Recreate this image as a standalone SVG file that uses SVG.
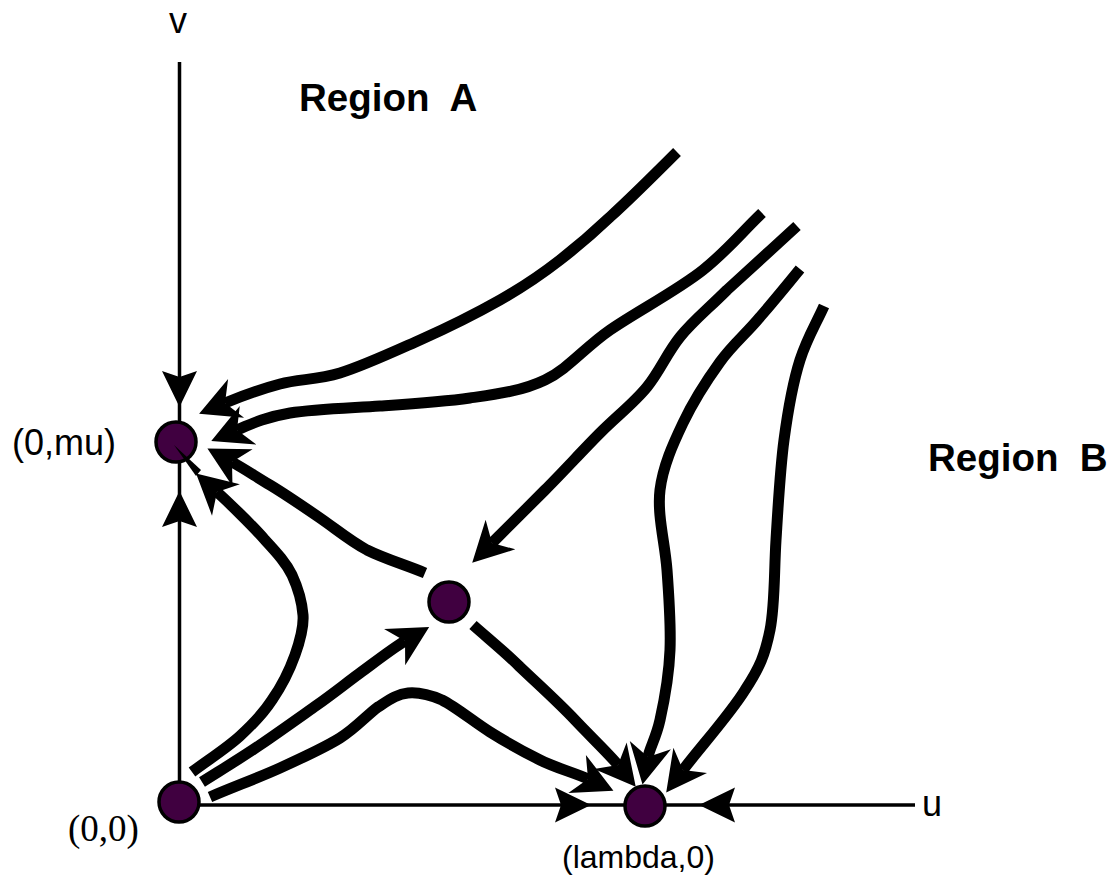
<svg xmlns="http://www.w3.org/2000/svg" xmlns:xlink="http://www.w3.org/1999/xlink" width="1112" height="884" viewBox="0 0 1112 884">
  <style>
    .axis { stroke: #000; stroke-width: 3.5; fill: none; }
    .flow { stroke: #000; stroke-width: 11; fill: none; stroke-linecap: butt; stroke-linejoin: round; marker-end: url(#head); }
    .pt { fill: #400040; stroke: #000; stroke-width: 3.5; }
    .lbl { font-family: "Liberation Sans", Arial, sans-serif; font-size: 36px; fill: #000; }
    .serif { font-family: "Liberation Serif", "Times New Roman", serif; font-size: 37px; fill: #000; }
    .region { font-family: "Liberation Sans", Arial, sans-serif; font-size: 38.5px; font-weight: bold; fill: #000; white-space: pre; }
  </style>
  <defs>
    <!-- notched arrowhead in user units; reference point sits in the notch so the stroke ends inside it -->
    <marker id="head" markerUnits="userSpaceOnUse" markerWidth="80" markerHeight="80" refX="0" refY="0" orient="auto" overflow="visible">
      <path d="M-12,-21 L28,0 L-12,21 L0,0 Z" fill="#000"/>
    </marker>
    <!-- arrowhead for the axes, tip at the origin pointing along +x -->
    <path id="axhead" d="M0,0 L-36,-17.5 L-30,0 L-36,17.5 Z" fill="#000"/>
  </defs>

  <rect width="1112" height="884" fill="#fff"/>

  <!-- coordinate axes -->
  <g id="axes">
    <line class="axis" x1="179.5" y1="62" x2="179.5" y2="802"/>
    <line class="axis" x1="179" y1="805" x2="915" y2="805"/>
    <use xlink:href="#axhead" transform="translate(179.5,407) rotate(90)"/>
    <use xlink:href="#axhead" transform="translate(179.5,491) rotate(-90)"/>
    <use xlink:href="#axhead" transform="translate(591,805)"/>
    <use xlink:href="#axhead" transform="translate(699,805) rotate(180)"/>
    <text class="lbl" x="178" y="33" text-anchor="middle">v</text>
    <text class="lbl" x="922" y="816">u</text>
  </g>

  <!-- trajectories -->
  <g id="connectors">
    <path class="flow" d="M677,152 C655,174 630,199 610,217 C591,235 578,246 560,260 C542,274 523,287 500,300 C477,313 447,328 420,340 C393,352 363,366 340,373 C317,380 299,379 280,384 C261,389 242,396 225,403"/>
    <path class="flow" d="M762,213 C742,232 728,250 703,270 C678,290 636,312 610,330 C584,348 568,369 545,380 C522,391 498,394 470,398 C442,402 410,404 380,406 C350,408 314,409 290,413 C266,417 251,424 237,430"/>
    <path class="flow" d="M797,226 C774,247 747,272 727,290 C708,309 693,321 680,337 C667,353 660,371 647,387 C634,403 617,416 600,433 C583,450 563,472 545,490 C527,508 504,531 492,543"/>
    <path class="flow" d="M800,269 C787,285 773,302 760,317 C747,333 733,344 720,362 C707,380 693,402 683,423 C673,444 663,466 660,490 C657,515 665,543 667,570 C669,597 671,625 670,650 C669,675 664,702 660,720 C656,738 650,747 648,757"/>
    <path class="flow" d="M824,306 C816,324 807,338 800,360 C793,382 788,410 784,440 C780,470 778,508 776,540 C774,572 775,605 770,630 C765,655 760,667 745,690 C731,713 698,750 683,770"/>
    <path class="flow" d="M425,573 C406,565 385,559 367,550 C350,541 336,529 320,518 C304,507 285,494 270,485 C255,476 243,468 232,462"/>
    <path class="flow" d="M192,772 C208,760 227,748 240,736 C253,724 263,714 272,700 C281,687 290,669 295,655 C300,641 304,628 303,615 C302,602 298,588 292,575 C286,563 278,554 265,540 C253,526 226,500 217,492"/>
    <path class="flow" d="M202,782 C221,770 241,758 260,745 C279,732 300,717 317,705 C334,693 345,684 360,673 C375,662 393,648 405,641"/>
    <path class="flow" d="M210,797 C233,787 258,778 280,768 C302,758 324,748 340,738 C356,728 367,715 378,707 C389,700 397,694 408,693 C419,692 428,694 442,700 C456,707 474,722 490,732 C506,742 524,752 540,760 C556,768 575,773 588,779"/>
    <path class="flow" d="M473,625 C490,640 505,652 520,667 C540,686 558,702 575,720 C592,738 609,754 618,765"/>
  </g>

  <!-- equilibrium points -->
  <g id="node-mu">
    <circle class="pt" cx="176" cy="442" r="20"/>
    <polygon points="174,445 201,470 196,476" fill="#000"/>
    <text class="lbl" x="12" y="455">(0,mu)</text>
  </g>
  <g id="node-origin">
    <circle class="pt" cx="179" cy="802" r="20"/>
    <text class="serif" x="68" y="841">(0,0)</text>
  </g>
  <g id="node-saddle">
    <circle class="pt" cx="449" cy="602" r="20"/>
  </g>
  <g id="node-lambda">
    <circle class="pt" cx="645" cy="806" r="20"/>
    <text class="lbl" x="562" y="868" style="font-size:32px">(lambda,0)</text>
  </g>

  <!-- region captions -->
  <g id="regions">
    <text class="region" x="299" y="111">Region  A</text>
    <text class="region" x="928" y="471">Region  B</text>
  </g>
</svg>
